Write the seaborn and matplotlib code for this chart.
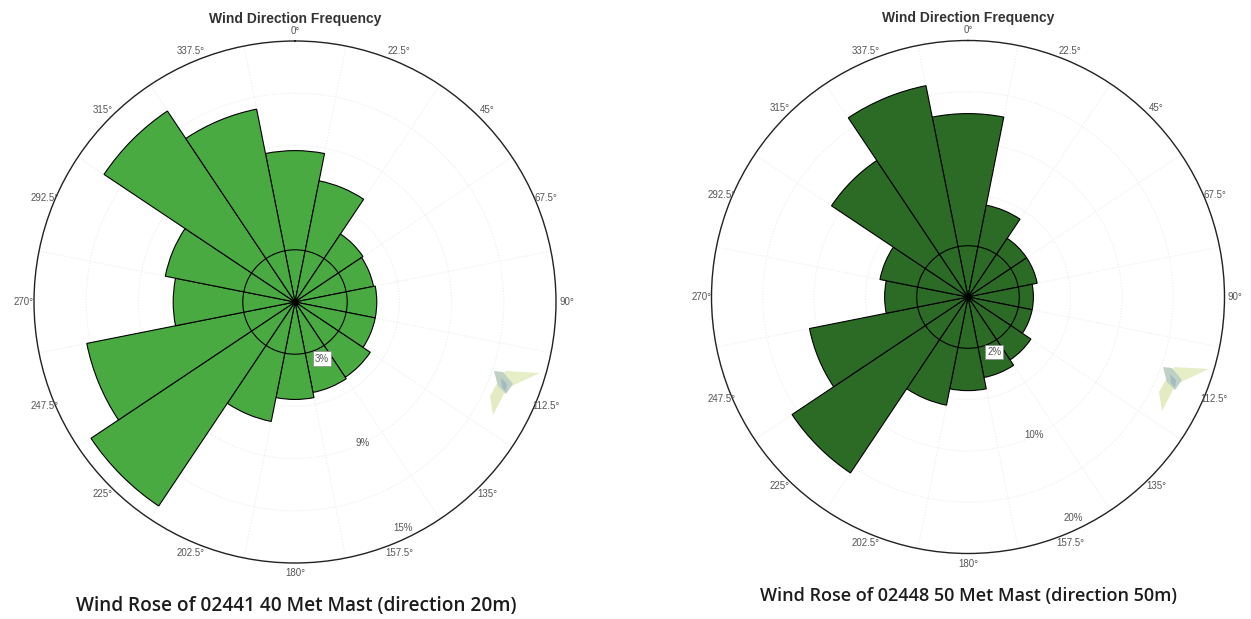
import numpy as np
import pandas as pd
import matplotlib
matplotlib.use("Agg")
import matplotlib.pyplot as plt
from matplotlib.patches import Polygon
import seaborn as sns

directions = [0, 22.5, 45, 67.5, 90, 112.5, 135, 157.5, 180, 202.5, 225, 247.5, 270, 292.5, 315, 337.5]
dir_labels = ["0°", "22.5°", "45°", "67.5°", "90°", "112.5°", "135°", "157.5°", "180°",
              "202.5°", "225°", "247.5°", "270°", "292.5°", "315°", "337.5°"]

freq_40m = [8.7, 7.1, 4.7, 4.6, 4.7, 4.7, 5.2, 5.3, 5.6, 7.0, 14.1, 12.2, 7.0, 7.6, 13.2, 11.3]
freq_50m = [14.3, 7.3, 5.5, 5.5, 5.1, 5.1, 5.9, 6.4, 7.3, 8.6, 16.5, 12.6, 6.5, 7.0, 12.8, 16.8]

rings_40m = [3, 6, 9, 12, 15]
rings_50m = [4, 8, 12, 16, 20]
ring_text_40m = ["3%", "9%", "15%"]
ring_text_50m = ["2%", "10%", "20%"]
ring_text_r_40m = [3.6, 9, 14.4]
ring_text_r_50m = [4.75, 11.9, 19.1]

W, H = 1251, 619
sns.set_theme(style="white")
plt.rcParams["font.family"] = ["Liberation Sans", "DejaVu Sans"]

fig = plt.figure(figsize=(W / 100, H / 100), dpi=100)


def rose(cx, cy, r, freq, rings, ring_text, ring_r, color, title_y):
    ax = fig.add_axes([(cx - r) / W, 1 - (cy + r) / H, 2 * r / W, 2 * r / H], projection="polar")
    df = pd.DataFrame({"theta": np.radians(directions), "freq": freq})
    df["inner"] = rings[0]

    sns.barplot(data=df, x="theta", y="freq", native_scale=True, width=1, color=color,
                saturation=1, edgecolor="black", linewidth=0.8, ax=ax, zorder=3)
    # black first ring sits on top of the bars
    sns.barplot(data=df, x="theta", y="inner", native_scale=True, width=1, color=color,
                saturation=1, edgecolor="black", linewidth=0.8, ax=ax, zorder=4)

    ax.set_theta_zero_location("N")
    ax.set_theta_direction(-1)
    ax.set_thetalim(0, 2 * np.pi)
    ax.set_ylim(0, rings[-1])
    ax.set_xlabel("")
    ax.set_ylabel("")

    edges = np.radians(np.array(directions) + 11.25)
    ax.set_xticks(edges)
    ax.set_xticklabels([])
    ax.set_yticks(rings)
    ax.set_yticklabels([])
    ax.grid(True, color="#ececec", linestyle=(0, (1, 1.5)), linewidth=0.8)
    ax.set_axisbelow(True)
    ax.tick_params(length=0)
    ax.spines["polar"].set_linewidth(1.0)
    ax.spines["polar"].set_color("#222222")

    for d, lab in zip(directions, dir_labels):
        ax.text(np.radians(d), rings[-1] * 1.04, lab, ha="center", va="center",
                fontsize=7, color="#555555", clip_on=False)

    for i, (lab, rr) in enumerate(zip(ring_text, ring_r)):
        box = dict(facecolor="white", edgecolor="#888888", linewidth=0.5, pad=1.5) if i == 0 else None
        ax.text(np.radians(154.5), rr, lab, ha="center", va="center", fontsize=7,
                color="#555555", bbox=box, zorder=6)

    fig.text(cx / W, 1 - title_y / H, "Wind Direction Frequency", ha="center", va="center",
             fontsize=10, fontweight="bold", color="#333333")
    ax.plot([0], [0], "o", color="black", ms=3.5, zorder=7)
    return ax


def logo(dx, dy):
    # pale watermark left on the image, in pixel positions of the left chart
    shapes = [
        ([(540, 373), (505, 371), (499, 392), (514, 385)], "#e6eec8"),
        ([(493, 415), (490, 396), (499, 380), (505, 392)], "#e4ebc2"),
        ([(494, 371), (503, 372), (513, 384), (506, 394), (498, 386)], "#bdd2c4"),
        ([(501, 378), (507, 384), (506, 392), (502, 387)], "#a5bac0"),
    ]
    for pts, c in shapes:
        xy = [((x + dx) / W, 1 - (y + dy) / H) for x, y in pts]
        fig.add_artist(Polygon(xy, closed=True, facecolor=c, edgecolor="none", transform=fig.transFigure))


rose(295, 302, 261, freq_40m, rings_40m, ring_text_40m, ring_text_r_40m, "#4aaa42", 19)
rose(968, 297, 256.5, freq_50m, rings_50m, ring_text_50m, ring_text_r_50m, "#2c6b26", 18)
logo(0, 0)
logo(669, -4)

fig.text(296 / W, 1 - 606 / H, "Wind Rose of 02441 40 Met Mast (direction 20m)", ha="center", va="center",
         fontsize=13.7, fontweight="semibold", family=["Open Sans", "DejaVu Sans"], color="#1c1c1c")
fig.text(969 / W, 1 - 596 / H, "Wind Rose of 02448 50 Met Mast (direction 50m)", ha="center", va="center",
         fontsize=13, fontweight="semibold", family=["Open Sans", "DejaVu Sans"], color="#1c1c1c")

fig.savefig("out.png", dpi=100, facecolor="white")
